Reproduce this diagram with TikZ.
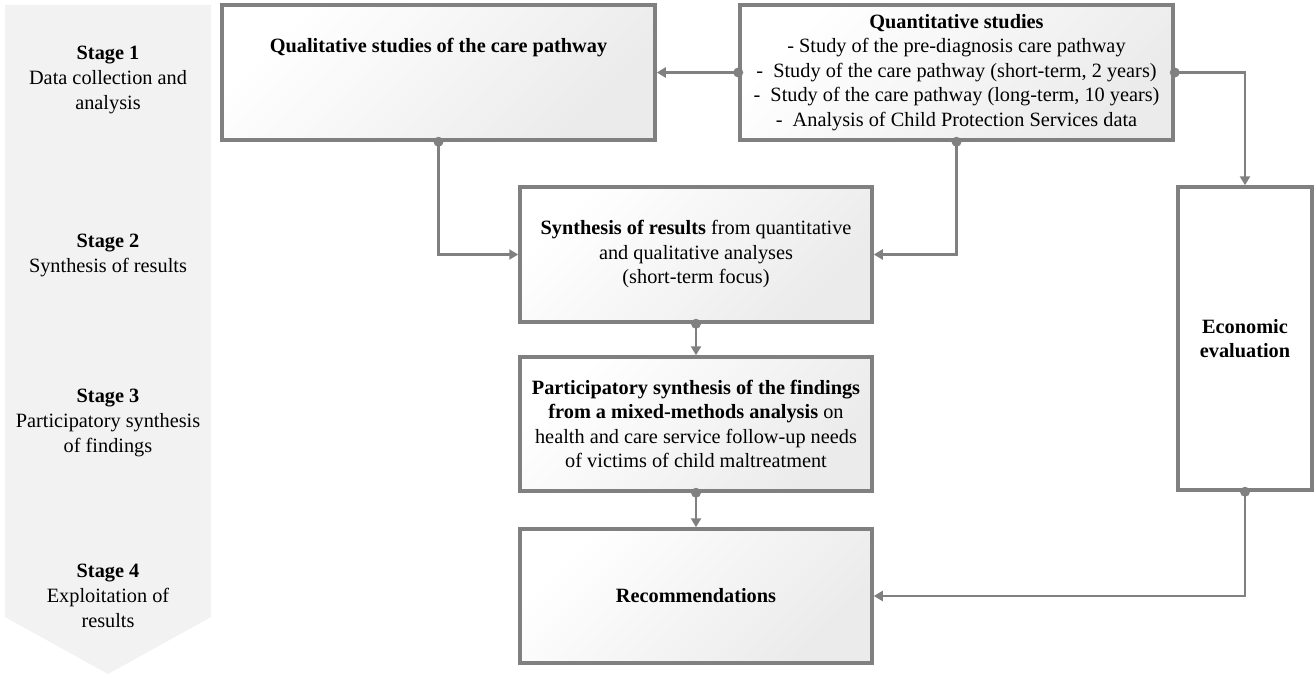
\documentclass[tikz,border=0pt]{standalone}
\usepackage{fontspec}
\setmainfont{Liberation Serif}
\usetikzlibrary{arrows.meta}
\definecolor{linegray}{RGB}{128,128,128}
\definecolor{stagegray}{RGB}{242,242,242}

\begin{document}
\begin{tikzpicture}[x=1pt,y=-1pt,
  box/.style={draw=linegray,line width=3.5pt,align=center,inner sep=0pt,
    top color=white,bottom color=black!8,shading angle=45,
    font=\fontsize{20.3}{24.5}\selectfont},
  plainbox/.style={draw=linegray,line width=3.5pt,fill=white,align=center,
    inner sep=0pt,font=\fontsize{20.3}{24.5}\selectfont},
  stagetext/.style={align=center,font=\fontsize{20.3}{25}\selectfont},
  link/.style={draw=linegray,line width=2.8pt},
  dot/.style={circle,fill=linegray,inner sep=0pt,minimum size=10pt},
  elbowv/.style={to path={|- (\tikztotarget) \tikztonodes}},
  elbowh/.style={to path={-| (\tikztotarget) \tikztonodes}}]
\useasboundingbox (0,0) rectangle (1316,677);

% stages arrow
\fill[stagegray] (5,5) -- (211,5) -- (211,617) -- (108,674) -- (5,617) -- cycle;
\node[stagetext] (s1) at (108,80)  {\textbf{Stage 1}\\Data collection and\\analysis};
\node[stagetext] (s2) at (108,255) {\textbf{Stage 2}\\Synthesis of results};
\node[stagetext] (s3) at (108,423) {\textbf{Stage 3}\\Participatory synthesis\\of findings};
\node[stagetext] (s4) at (108,596) {\textbf{Stage 4}\\Exploitation of\\results};

% boxes
\node[box,minimum width=433pt,minimum height=135pt,text depth=55pt] (qual) at (438.5,72.5)
  {\textbf{Qualitative studies of the care pathway}};
\node[box,minimum width=433pt,minimum height=135pt] (quant) at (956.5,72.5)
  {\textbf{Quantitative studies}\\
   - Study of the pre-diagnosis care pathway\\
   -\ \ Study of the care pathway (short-term, 2 years)\\
   -\ \ Study of the care pathway (long-term, 10 years)\\
   -\ \ Analysis of Child Protection Services data};
\node[box,minimum width=352pt,minimum height=135pt] (synth) at (696,254.5)
  {\textbf{Synthesis of results} from quantitative\\
   and qualitative analyses\\(short-term focus)};
\node[box,minimum width=352pt,minimum height=134pt] (part) at (696,424)
  {\textbf{Participatory synthesis of the findings}\\
   \textbf{from a mixed-methods analysis} on\\
   health and care service follow-up needs\\
   of victims of child maltreatment};
\node[box,minimum width=352pt,minimum height=134pt] (rec) at (696,596)
  {\textbf{Recommendations}};
\node[plainbox,minimum width=134pt,minimum height=303pt] (econ) at (1245,338.5)
  {\textbf{Economic}\\\textbf{evaluation}};

% connectors
\path[-{Triangle[length=9pt,width=10pt]}]
    (quant.west) edge[link] node[dot,pos=0] {} (qual.east)
    (qual.south) edge[link,elbowv] node[dot,pos=0] {} (synth.west)
    (quant.south) edge[link,elbowv] node[dot,pos=0] {} (synth.east)
    (quant.east) edge[link,elbowh] node[dot,pos=0] {} (econ.north);
\path[-{Triangle[length=9pt,width=10pt]}]
    (synth.south) edge[link] node[dot,pos=0] {} (part.north)
    (part.south) edge[link] node[dot,pos=0] {} (rec.north)
    (econ.south) edge[link,elbowv] node[dot,pos=0] {} (rec.east);
\end{tikzpicture}
\end{document}
